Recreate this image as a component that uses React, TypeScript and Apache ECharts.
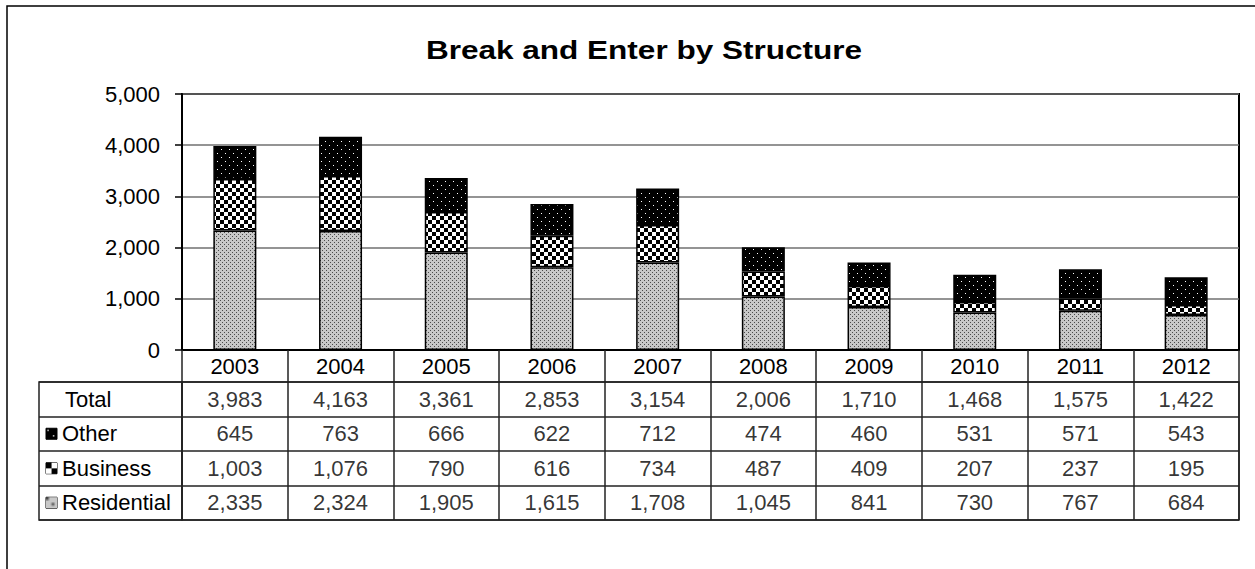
import React, { useEffect, useRef } from 'react';
import * as echarts from 'echarts';

const years = ['2003', '2004', '2005', '2006', '2007', '2008', '2009', '2010', '2011', '2012'];
const rowNames = ['Total', 'Other', 'Business', 'Residential'];
const residential = [2335, 2324, 1905, 1615, 1708, 1045, 841, 730, 767, 684];
const business = [1003, 1076, 790, 616, 734, 487, 409, 207, 237, 195];
const other = [645, 763, 666, 622, 712, 474, 460, 531, 571, 543];
const totals = [3983, 4163, 3361, 2853, 3154, 2006, 1710, 1468, 1575, 1422];
const yMin = 0;
const yMax = 5000;
const yInterval = 1000;

const FONT = '"Liberation Sans", Arial, sans-serif';
const fmt = (v: number) => v.toLocaleString('en-US');

function makeCanvas(kind: string): HTMLCanvasElement {
  const c = document.createElement('canvas');
  const ctx = c.getContext('2d')!;
  if (kind === 'res') {
    c.width = 4; c.height = 4;
    ctx.fillStyle = '#c8c8c8';
    ctx.fillRect(0, 0, 4, 4);
    ctx.fillStyle = '#4a4a4a';
    ctx.fillRect(0, 0, 1, 1);
    ctx.fillRect(2, 2, 1, 1);
  } else if (kind === 'bus') {
    c.width = 8; c.height = 8;
    ctx.fillStyle = '#ffffff';
    ctx.fillRect(0, 0, 8, 8);
    ctx.fillStyle = '#000000';
    ctx.fillRect(0, 0, 4, 4);
    ctx.fillRect(4, 4, 4, 4);
  } else {
    c.width = 8; c.height = 8;
    ctx.fillStyle = '#000000';
    ctx.fillRect(0, 0, 8, 8);
    ctx.fillStyle = '#ffffff';
    ctx.fillRect(1, 1, 1, 1);
    ctx.fillRect(5, 5, 1, 1);
  }
  return c;
}

export default function App() {
  const ref = useRef<HTMLDivElement>(null);
  useEffect(() => {
    document.body.style.margin = '0';
    const chart = echarts.init(ref.current!, null, { renderer: 'svg' });
    const resC = makeCanvas('res');
    const busC = makeCanvas('bus');
    const othC = makeCanvas('oth');
    const pat = (c: HTMLCanvasElement) => ({ image: c, repeat: 'repeat' });

    const cellData: any[] = [];
    years.forEach((y, i) => {
      cellData.push([y, 'Total', totals[i]]);
      cellData.push([y, 'Other', other[i]]);
      cellData.push([y, 'Business', business[i]]);
      cellData.push([y, 'Residential', residential[i]]);
    });

    const iconStyle = (c: HTMLCanvasElement) => ({
      width: 11,
      height: 11,
      backgroundColor: { image: c },
      borderColor: '#000',
      borderWidth: 1,
    });

    const option: any = {
      animation: false,
      textStyle: { fontFamily: FONT },
      graphic: [
        {
          type: 'rect',
          shape: { x: 7, y: 6, width: 1400, height: 700 },
          style: { fill: 'none', stroke: '#000', lineWidth: 1.5 },
          silent: true,
        },
        {
          type: 'text',
          x: 644,
          y: 50,
          scaleX: 1.19,
          style: {
            text: 'Break and Enter by Structure',
            font: `bold 26.5px ${FONT}`,
            fill: '#000',
            align: 'center',
            verticalAlign: 'middle',
          },
        },
      ],
      grid: [
        { left: 182, right: 16, top: 94, bottom: 219, show: true, borderColor: '#000', borderWidth: 2 },
        { left: 182, right: 16, top: 382, bottom: 49, show: true, borderColor: '#222', borderWidth: 1.5 },
        { left: 39, width: 143, top: 382, bottom: 49, show: true, borderColor: '#222', borderWidth: 1.5 },
      ],
      xAxis: [
        {
          type: 'category',
          gridIndex: 0,
          data: years,
          boundaryGap: true,
          axisLine: { lineStyle: { color: '#000', width: 2 } },
          axisTick: { show: true, length: 32, interval: 0, alignWithLabel: false, lineStyle: { color: '#222', width: 1.5 } },
          axisLabel: { fontSize: 22, color: '#000', margin: 5, interval: 0, fontFamily: FONT },
        },
        {
          type: 'category',
          gridIndex: 1,
          data: years,
          boundaryGap: true,
          axisLine: { show: false },
          axisTick: { show: false },
          axisLabel: { show: false },
          splitLine: { show: true, interval: 0, lineStyle: { color: '#222', width: 1.5 } },
        },
        {
          type: 'value',
          gridIndex: 2,
          show: false,
        },
      ],
      yAxis: [
        {
          type: 'value',
          gridIndex: 0,
          min: yMin,
          max: yMax,
          interval: yInterval,
          axisLine: { show: true, lineStyle: { color: '#000', width: 2 } },
          axisTick: { show: true, length: 7, lineStyle: { color: '#000', width: 1.5 } },
          axisLabel: { fontSize: 22, color: '#000', margin: 22, formatter: (v: number) => fmt(v), fontFamily: FONT },
          splitLine: { show: true, lineStyle: { color: '#707070', width: 1.5 } },
        },
        {
          type: 'category',
          gridIndex: 1,
          data: rowNames,
          inverse: true,
          axisLine: { show: false },
          axisTick: { show: false },
          axisLabel: { show: false },
          splitLine: { show: true, interval: 0, lineStyle: { color: '#222', width: 1.5 } },
        },
        {
          type: 'category',
          gridIndex: 2,
          data: rowNames,
          inverse: true,
          axisLine: { show: false },
          axisTick: { show: false },
          splitLine: { show: true, interval: 0, lineStyle: { color: '#222', width: 1.5 } },
          axisLabel: {
            inside: true,
            margin: 7,
            interval: 0,
            color: '#000',
            fontSize: 22,
            fontFamily: FONT,
            formatter: (v: string) => {
              if (v === 'Total') return `{tot|${v}}`;
              const key = v === 'Other' ? 'io' : v === 'Business' ? 'ib' : 'ir';
              return `{${key}|}{t|${v}}`;
            },
            rich: {
              tot: { fontSize: 22, fontFamily: FONT, color: '#000', padding: [0, 0, 0, 19] },
              t: { fontSize: 22, fontFamily: FONT, color: '#000', padding: [0, 0, 0, 5] },
              io: iconStyle(othC),
              ib: iconStyle(busC),
              ir: iconStyle(resC),
            },
          },
        },
      ],
      series: [
        {
          name: 'Residential',
          type: 'bar',
          stack: 'total',
          barWidth: 43,
          data: residential,
          itemStyle: { color: pat(resC), borderColor: '#000', borderWidth: 1.5 },
        },
        {
          name: 'Business',
          type: 'bar',
          stack: 'total',
          barWidth: 43,
          data: business,
          itemStyle: { color: pat(busC), borderColor: '#000', borderWidth: 1.5 },
        },
        {
          name: 'Other',
          type: 'bar',
          stack: 'total',
          barWidth: 43,
          data: other,
          itemStyle: { color: pat(othC), borderColor: '#000', borderWidth: 1.5 },
        },
        {
          name: 'table',
          type: 'scatter',
          xAxisIndex: 1,
          yAxisIndex: 1,
          symbolSize: 1,
          itemStyle: { color: 'rgba(0,0,0,0)' },
          data: cellData,
          label: {
            show: true,
            position: 'inside',
            formatter: (p: any) => fmt(p.value[2]),
            fontSize: 22,
            color: '#000',
            fontFamily: FONT,
          },
          silent: true,
        },
      ],
    };
    chart.setOption(option);
    return () => chart.dispose();
  }, []);
  return <div ref={ref} style={{ width: 1255, height: 569 }} />;
}
